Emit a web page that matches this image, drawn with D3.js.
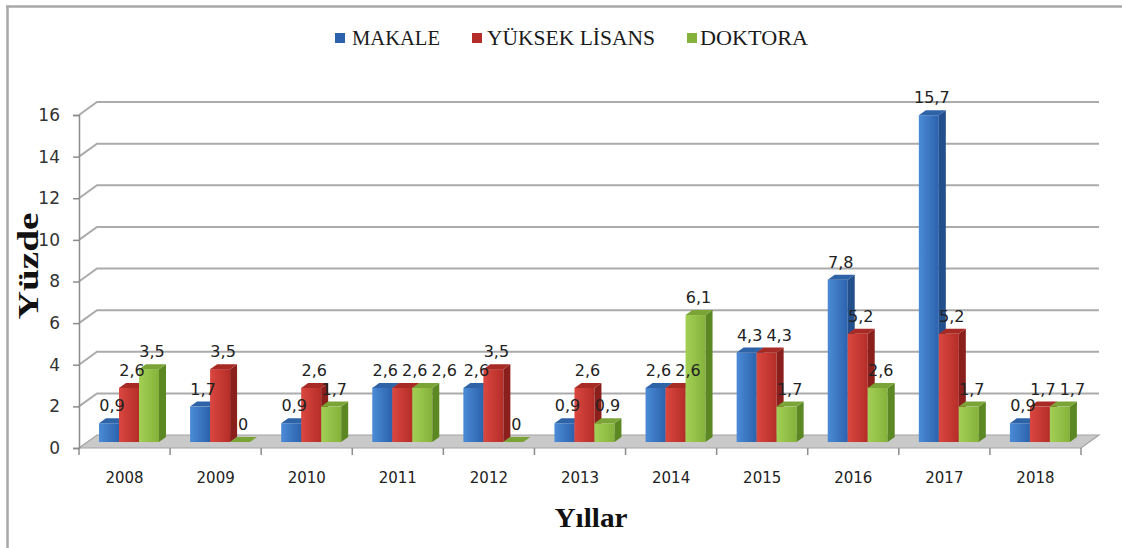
<!DOCTYPE html>
<html>
<head>
<meta charset="utf-8">
<script src="https://cdn.jsdelivr.net/npm/d3@7"></script>
<style>
html,body{margin:0;padding:0;background:#fff;}
svg{display:block;}
</style>
</head>
<body>
<svg id="chart" width="1122" height="548"></svg>
<script>
const years = ["2008","2009","2010","2011","2012","2013","2014","2015","2016","2017","2018"];
const seriesNames = ["MAKALE","YÜKSEK LİSANS","DOKTORA"];
const makale = [0.9,1.7,0.9,2.6,2.6,0.9,2.6,4.3,7.8,15.7,0.9];
const yuksekLisans = [2.6,3.5,2.6,2.6,3.5,2.6,2.6,4.3,5.2,5.2,1.7];
const doktora = [3.5,0,1.7,2.6,0,0.9,6.1,1.7,2.6,1.7,1.7];
const yTicks = [0,2,4,6,8,10,12,14,16];
const seriesValues = [makale, yuksekLisans, doktora];

const colors = [
  {front0:"#4b8bd6", front1:"#2c62ad", side:"#234f8c", top:"#2f63a8"},
  {front0:"#da4740", front1:"#b52d28", side:"#8a1f1b", top:"#a82a25"},
  {front0:"#a3cf55", front1:"#84b23a", side:"#5c8824", top:"#7aa536"}
];

const svg = d3.select("#chart");
const defs = svg.append("defs");
colors.forEach((c,i)=>{
  const g = defs.append("linearGradient").attr("id","grad"+i).attr("x1","0").attr("x2","1").attr("y1","0").attr("y2","0");
  g.append("stop").attr("offset","0%").attr("stop-color",c.front0);
  g.append("stop").attr("offset","100%").attr("stop-color",c.front1);
});

// frame
svg.append("line").attr("x1",7.5).attr("x2",7.5).attr("y1",6).attr("y2",548).attr("stroke","#a8a8a8").attr("stroke-width",2.5);
svg.append("line").attr("x1",6).attr("x2",1122).attr("y1",6.5).attr("y2",6.5).attr("stroke","#a8a8a8").attr("stroke-width",2.5);

const left = 79, right = 1081, floorY = 448;
const depthX = 18, depthY = -13;
const y = d3.scaleLinear().domain([0,16]).range([floorY, 115]);
const x0 = d3.scaleBand().domain(years).range([left, right]);
const x1 = d3.scaleBand().domain(seriesNames).range([20, 80]);

// floor
const floor = [[left, floorY],[right, floorY],[right+depthX, floorY+depthY],[left+depthX, floorY+depthY]];
svg.append("polygon").attr("points", floor.map(p=>p.join(",")).join(" "))
  .attr("fill","#c9c9c9").attr("stroke","#a3a3a3").attr("stroke-width",1.2);

// gridlines on back wall
const grid = svg.append("g");
yTicks.filter(t=>t>0).forEach(t=>{
  const yy = y(t);
  grid.append("polyline")
    .attr("points", `${left},${yy} ${left+depthX},${yy+depthY} ${right+depthX},${yy+depthY}`)
    .attr("fill","none").attr("stroke","#ababab").attr("stroke-width",2);
});

// y axis
const yAxis = d3.axisLeft(y).tickValues(yTicks).tickSize(6).tickPadding(13).tickFormat(d3.format("d"));
const ga = svg.append("g").attr("transform",`translate(${left},0)`).call(yAxis);
ga.select(".domain").attr("stroke","#8c8c8c").attr("stroke-width",1.5);
ga.selectAll(".tick line").attr("stroke","#8c8c8c").attr("stroke-width",1.5);
ga.selectAll(".tick text").attr("font-family","DejaVu Sans").attr("font-size",17).attr("fill","#333");

// x axis
const xAxis = d3.axisBottom(x0).tickSize(0).tickPadding(24);
const gx = svg.append("g").attr("transform",`translate(0,${floorY})`).call(xAxis);
gx.select(".domain").remove();
gx.selectAll(".tick text").attr("font-family","DejaVu Sans").attr("font-size",15).attr("fill","#222");
// category separators
const bounds = years.map(yv=>x0(yv)).concat([right]);
svg.append("g").selectAll("line").data(bounds).join("line")
  .attr("x1",d=>d).attr("x2",d=>d).attr("y1",floorY).attr("y2",floorY+7)
  .attr("stroke","#8c8c8c").attr("stroke-width",1.5);

// bars
const bdx = 7, bdy = -5, barBase = 442;
const bh = v => (y(0)-y(v));
const labelsAll = [];
const barsG = svg.append("g");
years.forEach((yr, ci)=>{
  const labs = [];
  seriesNames.forEach((s, si)=>{
    const v = seriesValues[si][ci];
    const c = colors[si];
    const xf = x0(yr) + x1(s);
    const w = x1.bandwidth();
    const top = barBase - bh(v);
    const g = barsG.append("g");
    if (v > 0) {
      g.append("rect").attr("x",xf).attr("y",top).attr("width",w).attr("height",barBase-top).attr("fill",`url(#grad${si})`);
      g.append("polygon").attr("points",`${xf+w},${top} ${xf+w+bdx},${top+bdy} ${xf+w+bdx},${barBase+bdy} ${xf+w},${barBase}`).attr("fill",c.side);
    }
    g.append("polygon").attr("points",`${xf},${top} ${xf+bdx},${top+bdy} ${xf+w+bdx},${top+bdy} ${xf+w},${top}`).attr("fill",c.top);
    const txt = String(v).replace(".",",");
    const tw = txt.length===1 ? 10 : (txt.length===3 ? 25.5 : 36);
    labs.push({x: xf + w/2 + 3, y: top - 12, t: txt, w: tw});
  });
  // resolve overlaps sequentially to the right
  for (let i=1;i<labs.length;i++){
    for (let j=0;j<i;j++){
      const a = labs[j], b = labs[i];
      if (Math.abs(a.y-b.y) < 14) {
        const minD = (a.w+b.w)/2 + 4;
        if (b.x - a.x < minD) b.x = a.x + minD;
      }
    }
  }
  labelsAll.push(...labs);
});
svg.append("g").selectAll("text").data(labelsAll).join("text")
  .attr("x",d=>d.x).attr("y",d=>d.y).attr("text-anchor","middle")
  .attr("font-family","DejaVu Sans").attr("font-size",16).attr("fill","#222")
  .text(d=>d.t);

// legend
const legX = [335, 472, 687];
const legTextX = [352, 487, 700];
const legW = [88, 168, 108];
const leg = svg.append("g");
seriesNames.forEach((s,i)=>{
  leg.append("rect").attr("x",legX[i]).attr("y",33).attr("width",10).attr("height",10).attr("fill",colors[i].front1);
  leg.append("text").attr("x",legTextX[i]).attr("y",45).attr("font-family","Liberation Serif").attr("font-size",21)
    .attr("fill","#1a1a1a").attr("textLength",legW[i]).attr("lengthAdjust","spacingAndGlyphs").text(s);
});

// axis titles
svg.append("text").attr("transform","translate(38,266) rotate(-90)").attr("text-anchor","middle")
  .attr("font-family","Liberation Serif").attr("font-weight","bold").attr("font-size",30).attr("fill","#111")
  .attr("textLength",107).attr("lengthAdjust","spacingAndGlyphs").text("Yüzde");
svg.append("text").attr("x",591).attr("y",527).attr("text-anchor","middle")
  .attr("font-family","Liberation Serif").attr("font-weight","bold").attr("font-size",28).attr("fill","#111")
  .attr("textLength",73).attr("lengthAdjust","spacingAndGlyphs").text("Yıllar");
</script>
</body>
</html>
